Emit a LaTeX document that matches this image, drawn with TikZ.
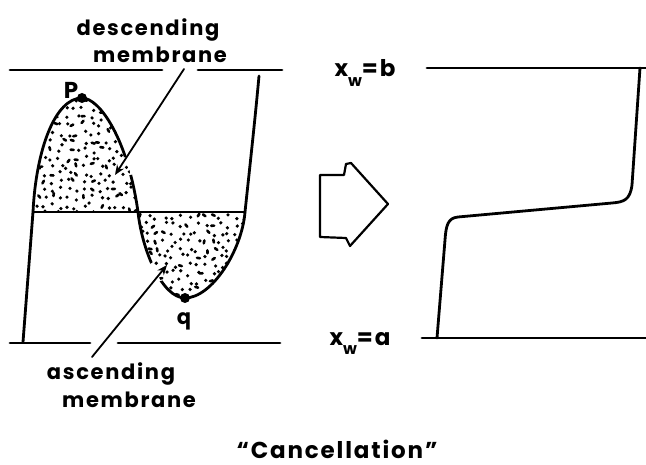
\documentclass[tikz,border=0pt]{standalone}
\usepackage{fontspec}
\newfontfamily\hand[LetterSpace=8]{Poppins}
\usetikzlibrary{arrows.meta}
\newcommand\stipdot[2]{%
  \pgfmathsetmacro\xx{#1+6*rnd-3}%
  \pgfmathsetmacro\yy{#2+6*rnd-3}%
  \pgfmathtruncatemacro\isdash{rnd<0.25 ? 1 : 0}%
  \pgfmathsetmacro\aa{360*rnd}%
  \ifnum\isdash=1
    \draw[line width=2.6pt, line cap=round] (\xx,\yy) -- ++(\aa:3);
  \else
    \fill (\xx,\yy) circle (1.8);
  \fi}
\begin{document}
\begin{tikzpicture}[x=1pt,y=-1pt,
  thickline/.style={line width=2.8pt, line cap=round, line join=round},
  ptr/.style={line width=1.8pt, line cap=round, -{Stealth[length=10pt,width=8pt]}},
  lbl/.style={font=\hand\bfseries\fontsize{21}{23}\selectfont, inner sep=0pt, anchor=base},
  biglbl/.style={font=\hand\bfseries\fontsize{23}{26}\selectfont, inner sep=0pt, anchor=base},
  dotmark/.style={fill=black}]
\useasboundingbox (0,0) rectangle (646,465);

% ---------- stippling ----------
\pgfmathsetseed{11}
\begin{scope}
  \clip (33,212) .. controls (36,150) and (55,98) .. (82,98)
        .. controls (100,98) and (128,140) .. (138,212) -- cycle;
  \foreach \gx in {36,44,...,140}{
    \foreach \gy in {102,110,...,214}{
      \stipdot{\gx}{\gy}
    }
  }
\end{scope}
\begin{scope}
  \clip (138,212) .. controls (142,250) and (162,298) .. (185,298)
        .. controls (212,298) and (242,250) .. (245,212) -- cycle;
  \foreach \gx in {141,149,...,246}{
    \foreach \gy in {217,225,...,300}{
      \stipdot{\gx}{\gy}
    }
  }
\end{scope}

% ---------- left panel lines ----------
\draw[thickline] (10,70) -- (162,70);
\draw[thickline] (198,70) -- (282,70);
\draw[thickline] (10,343) -- (90,343);
\draw[thickline] (118,343) -- (280,343);
\draw[thickline] (33,212) -- (245,212);

\begin{scope}[even odd rule]
  \clip (-5,-5) rectangle (651,470)
        (128,166) circle (9.5) (158,271) circle (10.5);
  \draw[thickline] (23,342) -- (33,212)
     .. controls (36,150) and (55,98) .. (82,98)
     .. controls (100,98) and (128,140) .. (138,212)
     .. controls (142,250) and (162,298) .. (185,298)
     .. controls (212,298) and (242,250) .. (245,212)
     .. controls (250,165) and (255,120) .. (259,76);
\end{scope}

\fill[dotmark] (82,98) circle (5);
\fill[dotmark] (185,298) circle (5);

% ---------- labels ----------
\node[biglbl] (lp) at (71,99) {P};
\node[lbl] (lq) at (184,325) {q};
\node[lbl] (desc1) at (148,36) {descending};
\node[lbl] (desc2) at (160,63) {membrane};
\node[lbl] (asc1) at (111,380) {ascending};
\node[lbl] (asc2) at (129,407) {membrane};
\node[biglbl] (xb) at (365,77) {x\raisebox{-0.4em}{\fontsize{16}{17}\selectfont w}=b};
\node[biglbl] (xa) at (360,345) {x\raisebox{-0.4em}{\fontsize{16}{17}\selectfont w}=a};
\node[biglbl] (canc) at (337,458) {“Cancellation”};

% ---------- pointers ----------
\coordinate (d0) at (184,69);
\coordinate (d1) at (115,175);
\draw[ptr] (d0) -- (d1);
\coordinate (a0) at (92,357);
\coordinate (a1) at (167,265);
\draw[ptr] (a0) -- (a1);

% ---------- hollow arrow ----------
\draw[line width=2.2pt, line join=round]
  (320,175) -- (344,175) -- (346,164) -- (351,163) -- (388,204)
  -- (350,246) -- (346,238) -- (320,237) -- cycle;

% ---------- right panel ----------
\draw[thickline] (427,68) -- (646,68);
\draw[thickline] (422,338) -- (646,338);
\draw[thickline] (640,68) -- (632,185)
  .. controls (630,200) and (624,202) .. (612,203)
  -- (458,217) .. controls (448,218) and (446,225) .. (445,240)
  -- (437,338);
\end{tikzpicture}
\end{document}
